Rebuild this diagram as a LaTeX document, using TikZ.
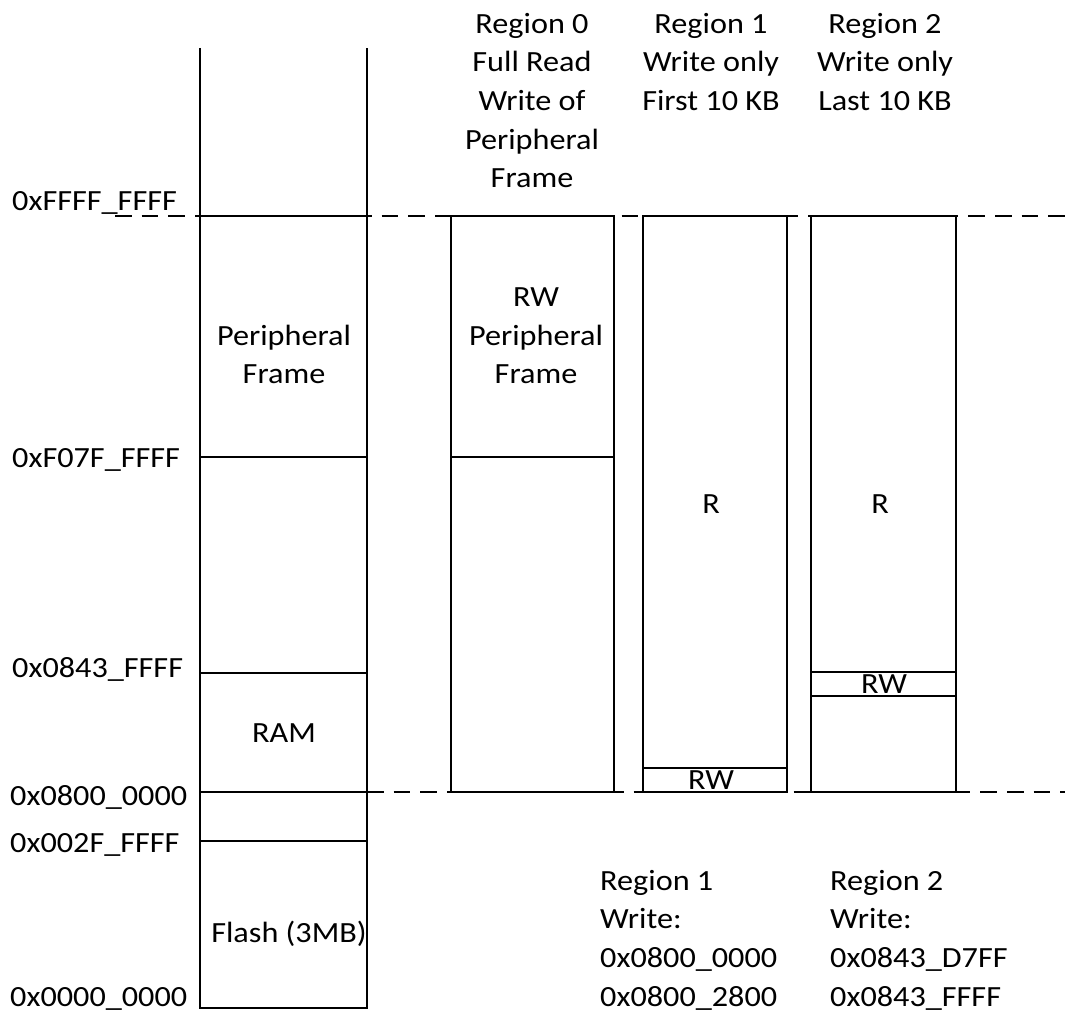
\documentclass[tikz,border=0pt]{standalone}
\usepackage{fontspec}
\setmainfont{Carlito}[FakeStretch=1.1]
\usetikzlibrary{positioning}

\begin{document}
\begin{tikzpicture}[
  x=0.03cm, y=-0.03cm,
  font=\fontsize{25}{32.9}\selectfont,
  mem/.style={draw, line width=1.1pt},
  addr/.style={anchor=base west, inner sep=0pt},
  lbl/.style={align=center, inner sep=0pt},
  note/.style={align=left, anchor=north west, inner sep=0pt},
  bound/.style={line width=1.1pt, dash pattern=on 0.5cm off 0.3cm}
]
\useasboundingbox (0,0) rectangle (1065,1017);

% memory map
\draw[mem] (200,48) -- (200,1008) -- (367,1008) -- (367,48);
\foreach \y in {216,457,673,792,841}
  \draw[mem] (200,\y) -- (367,\y);

% region boxes
\draw[mem] (451,216) rectangle (614,792);
\draw[mem] (451,457) -- (614,457);
\draw[mem] (643,216) rectangle (787,792);
\draw[mem] (643,768) rectangle (787,792);
\draw[mem] (811,216) rectangle (956,792);
\draw[mem] (811,672) rectangle (956,696);

% boundaries
\draw[bound] (115,216) -- (1065,216);
\draw[bound] (367,792) -- (1065,792);

% addresses
\node[addr] (aTop)   at (12,211)  {0xFFFF\_FFFF};
\node[addr] (aPer)   at (12,467)  {0xF07F\_FFFF};
\node[addr] (aRamHi) at (12,677)  {0x0843\_FFFF};
\node[addr] (aRamLo) at (10,805)  {0x0800\_0000};
\node[addr] (aFlHi)  at (10,852)  {0x002F\_FFFF};
\node[addr] (aFlLo)  at (10,1006) {0x0000\_0000};

% memory contents
\node[lbl, anchor=south] (per) at (284,384) {Peripheral\\Frame};
\node[lbl, anchor=base] (ram)   at (284,742) {RAM};
\node[lbl, anchor=base] (flash) at (289,942) {Flash (3MB)};

% region headers
\node[lbl, anchor=north] (hdr0) at (532,13) {Region 0\\Full Read\\Write of\\Peripheral\\Frame};
\node[lbl, anchor=north] (hdr1) at (711,13) {Region 1\\Write only\\First 10 KB};
\node[lbl, anchor=north] (hdr2) at (885,13) {Region 2\\Write only\\Last 10 KB};

% region contents
\node[lbl, anchor=south] (rw0) at (536,384) {RW\\Peripheral\\Frame};
\node[lbl, anchor=base] (r1)  at (711,513) {R};
\node[lbl, anchor=base] (rw1) at (711,789) {RW};
\node[lbl, anchor=base] (r2)  at (880,513) {R};
\node[lbl, anchor=base] (rw2) at (884,693) {RW};

% write ranges
\node[note] (wr1) at (600,870) {Region 1\\Write:\\0x0800\_0000\\0x0800\_2800};
\node[note] (wr2) at (830,870) {Region 2\\Write:\\0x0843\_D7FF\\0x0843\_FFFF};
\end{tikzpicture}
\end{document}
